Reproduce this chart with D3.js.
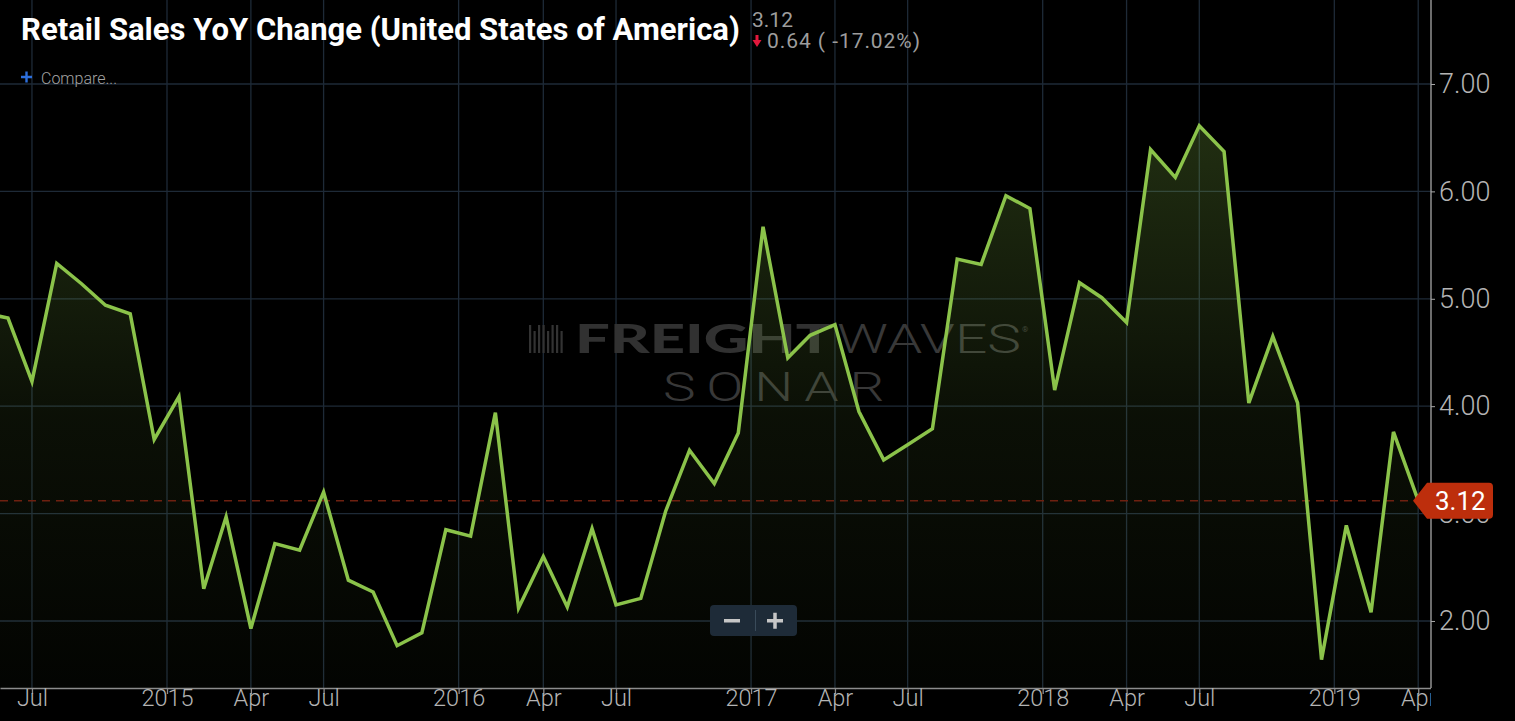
<!DOCTYPE html>
<html>
<head>
<meta charset="utf-8">
<script src="https://cdn.jsdelivr.net/npm/d3@7"></script>
<style>
  html, body { margin: 0; padding: 0; background: #000; overflow: hidden; }
</style>
</head>
<body>
<div id="chart"></div>
<script>
// monthly retail sales YoY change
const months = [
  "2014-05", "2014-06", "2014-07", "2014-08", "2014-09", "2014-10", "2014-11", "2014-12",
  "2015-01", "2015-02", "2015-03", "2015-04", "2015-05", "2015-06", "2015-07", "2015-08", "2015-09", "2015-10", "2015-11", "2015-12",
  "2016-01", "2016-02", "2016-03", "2016-04", "2016-05", "2016-06", "2016-07", "2016-08", "2016-09", "2016-10", "2016-11", "2016-12",
  "2017-01", "2017-02", "2017-03", "2017-04", "2017-05", "2017-06", "2017-07", "2017-08", "2017-09", "2017-10", "2017-11", "2017-12",
  "2018-01", "2018-02", "2018-03", "2018-04", "2018-05", "2018-06", "2018-07", "2018-08", "2018-09", "2018-10", "2018-11", "2018-12",
  "2019-01", "2019-02", "2019-03", "2019-04"
];
const values = [
  4.87, 4.82, 4.23, 5.33, 5.14, 4.94, 4.86, 3.69,
  4.09, 2.30, 2.97, 1.93, 2.72, 2.66, 3.20, 2.38, 2.27, 1.77, 1.89, 2.85,
  2.79, 3.94, 2.12, 2.60, 2.13, 2.86, 2.15, 2.21, 3.02, 3.59, 3.28, 3.75,
  5.67, 4.45, 4.66, 4.76, 3.95, 3.50, 3.64, 3.79, 5.37, 5.32, 5.96, 5.84,
  4.15, 5.15, 5.01, 4.78, 6.39, 6.13, 6.61, 6.37, 4.03, 4.65, 4.03, 1.64,
  2.89, 2.08, 3.76, 3.12
];

// x axis ticks (month ticks sit on the mid-month data points)
const tickDates = [
  "2014-07-16", "2015-01-01", "2015-04-16", "2015-07-16",
  "2016-01-01", "2016-04-16", "2016-07-16",
  "2017-01-01", "2017-04-16", "2017-07-16",
  "2018-01-01", "2018-04-16", "2018-07-16",
  "2019-01-01", "2019-04-16"
];
const tickLabels = [
  "Jul", "2015", "Apr", "Jul",
  "2016", "Apr", "Jul",
  "2017", "Apr", "Jul",
  "2018", "Apr", "Jul",
  "2019", "Apr"
];
const yTicks = [2, 3, 4, 5, 6, 7];

const title = "Retail Sales YoY Change (United States of America)";
const lastValue = values[values.length - 1];
const prevValue = values[values.length - 2];

const parse = d3.utcParse("%Y-%m-%d");
const data = months.map((m, i) => ({ date: parse(m + "-16"), value: values[i] }));
const fmt = v => d3.format(".2f")(v).replace("\u2212", "-");

const width = 1515, height = 721;
const plotW = 1431, plotH = 688;

const svg = d3.select("#chart")
  .append("svg")
  .attr("width", width)
  .attr("height", height)
  .style("background", "#000")
  .style("display", "block");

// scales
const x = d3.scaleUtc()
  .domain([parse("2014-06-06"), parse("2019-05-02")])
  .range([0, plotW]);
const y = d3.scaleLinear()
  .domain([1.376, 7.782])
  .range([plotH, 0]);

const defs = svg.append("defs");
defs.append("clipPath").attr("id", "plot-clip")
  .append("rect").attr("x", 0).attr("y", 0).attr("width", plotW).attr("height", plotH);
defs.append("clipPath").attr("id", "label-clip")
  .append("rect").attr("x", 0).attr("y", 0).attr("width", plotW).attr("height", height);

const grad = defs.append("linearGradient")
  .attr("id", "area-grad")
  .attr("gradientUnits", "userSpaceOnUse")
  .attr("x1", 0).attr("y1", y(7)).attr("x2", 0).attr("y2", plotH);
grad.append("stop").attr("offset", "0%").attr("stop-color", "#8bc34a").attr("stop-opacity", 0.26);
grad.append("stop").attr("offset", "55%").attr("stop-color", "#8bc34a").attr("stop-opacity", 0.08);
grad.append("stop").attr("offset", "100%").attr("stop-color", "#8bc34a").attr("stop-opacity", 0.02);

// grid
const grid = svg.append("g").attr("stroke", "#1e2a37").attr("stroke-width", 1.3);
grid.selectAll(".vg")
  .data(tickDates)
  .enter().append("line")
  .attr("x1", d => x(parse(d))).attr("x2", d => x(parse(d)))
  .attr("y1", 0).attr("y2", plotH);
grid.selectAll(".hg")
  .data(yTicks)
  .enter().append("line")
  .attr("x1", 0).attr("x2", plotW)
  .attr("y1", d => y(d)).attr("y2", d => y(d));

// watermark
const wm = svg.append("g");
const bars = [0, 4.5, 9, 13.5, 18, 22.5, 27, 31.5];
wm.selectAll(".bar")
  .data(bars)
  .enter().append("rect")
  .attr("x", d => 529 + d)
  .attr("y", (d, i) => (i % 3 === 1 ? 331 : 325))
  .attr("width", 2.2)
  .attr("height", (d, i) => (i % 3 === 1 ? 22 : 28))
  .attr("fill", "#333");
wm.append("text")
  .attr("x", 575).attr("y", 353)
  .attr("font-family", "Lato, 'DejaVu Sans', sans-serif")
  .attr("font-weight", 900)
  .attr("font-size", 40)
  .attr("textLength", 258)
  .attr("lengthAdjust", "spacingAndGlyphs")
  .attr("fill", "#313131")
  .text("FREIGHT");
wm.append("text")
  .attr("x", 837).attr("y", 353)
  .attr("font-family", "Roboto, sans-serif")
  .attr("font-weight", 300)
  .attr("font-size", 40)
  .attr("textLength", 184)
  .attr("lengthAdjust", "spacingAndGlyphs")
  .attr("fill", "#383838")
  .text("WAVES");
wm.append("text")
  .attr("x", 1022).attr("y", 332)
  .attr("font-family", "Roboto, sans-serif")
  .attr("font-size", 8)
  .attr("fill", "#3a3a3a")
  .text("®");
wm.append("text")
  .attr("x", 663).attr("y", 401)
  .attr("font-family", "Roboto, sans-serif")
  .attr("font-weight", 300)
  .attr("font-size", 41)
  .attr("letter-spacing", 8)
  .attr("textLength", 232)
  .attr("lengthAdjust", "spacingAndGlyphs")
  .attr("fill", "#383838")
  .text("SONAR");

// area + line
const plot = svg.append("g").attr("clip-path", "url(#plot-clip)");
plot.append("path")
  .datum(data)
  .attr("fill", "url(#area-grad)")
  .attr("d", d3.area()
    .x(d => x(d.date))
    .y0(plotH)
    .y1(d => y(d.value)));

// last value dashed line
plot.append("line")
  .attr("x1", 0).attr("x2", plotW)
  .attr("y1", y(lastValue)).attr("y2", y(lastValue))
  .attr("stroke", "#6e2010")
  .attr("stroke-width", 1.6)
  .attr("stroke-dasharray", "8,6");

plot.append("path")
  .datum(data)
  .attr("fill", "none")
  .attr("stroke", "#8bc34a")
  .attr("stroke-width", 3.5)
  .attr("d", d3.line()
    .x(d => x(d.date))
    .y(d => y(d.value)));

// x axis
const xAxisWrap = svg.append("g").attr("clip-path", "url(#label-clip)");
const xAxis = xAxisWrap.append("g")
  .attr("transform", "translate(0," + plotH + ")")
  .call(d3.axisBottom(x)
    .tickValues(tickDates.map(parse))
    .tickFormat((d, i) => tickLabels[i])
    .tickSize(6)
    .tickSizeOuter(0));
xAxis.select(".domain").attr("stroke", "#8c8c8c").attr("stroke-width", 1.5);
xAxis.selectAll(".tick line").attr("stroke", "#8c8c8c").attr("stroke-width", 1.3);
xAxis.selectAll(".tick text")
  .attr("y", 18)
  .attr("dy", null)
  .attr("fill", "#b4b4b4")
  .attr("font-family", "Roboto, sans-serif")
  .attr("font-weight", 300)
  .attr("font-size", 23.5);

// y axis on the right
const yAxis = svg.append("g")
  .attr("transform", "translate(" + plotW + ",0)")
  .call(d3.axisRight(y)
    .tickValues(yTicks)
    .tickFormat(d3.format(".2f"))
    .tickSize(4)
    .tickPadding(4)
    .tickSizeOuter(0));
yAxis.select(".domain").attr("stroke", "#a8a8a8").attr("stroke-width", 1.3)
  .attr("d", "M0,0V" + plotH);
yAxis.selectAll(".tick line").attr("stroke", "#a8a8a8");
yAxis.selectAll(".tick text")
  .attr("fill", "#b4b4b4")
  .attr("font-family", "Roboto, sans-serif")
  .attr("font-weight", 300)
  .attr("font-size", 27);

// last value tag
const ty = y(lastValue);
svg.append("path")
  .attr("d", "M" + (plotW - 18) + "," + ty +
    "L" + (plotW - 4) + "," + (ty - 18) +
    "H" + (plotW + 58) + "Q" + (plotW + 62) + "," + (ty - 18) + " " + (plotW + 62) + "," + (ty - 14) +
    "V" + (ty + 14) + "Q" + (plotW + 62) + "," + (ty + 18) + " " + (plotW + 58) + "," + (ty + 18) +
    "H" + (plotW - 4) + "Z")
  .attr("fill", "#bd2e0c");
svg.append("text")
  .attr("x", plotW + 4).attr("y", ty + 9.5)
  .attr("fill", "#fff")
  .attr("font-family", "Roboto, sans-serif")
  .attr("font-size", 26)
  .text(fmt(lastValue));

// header: condensed bold title squeezed to the reference width
const titleText = svg.append("text")
  .attr("fill", "#fff")
  .attr("font-family", "Roboto, sans-serif")
  .attr("font-weight", 700)
  .attr("font-size", 32)
  .text(title);
const titleScale = 719 / titleText.node().getComputedTextLength();
titleText.attr("transform", "translate(21,40) scale(" + titleScale + ",1)");

const change = lastValue - prevValue;
svg.append("text")
  .attr("x", 752).attr("y", 27)
  .attr("fill", "#9d9d9d")
  .attr("font-family", "Roboto, sans-serif")
  .attr("font-size", 21)
  .text(fmt(lastValue));
svg.append("path")
  .attr("d", "M755.5,35h3v5h3l-4.5,7l-4.5,-7h3z")
  .attr("fill", "#e2183c");
svg.append("text")
  .attr("x", 767).attr("y", 48)
  .attr("fill", "#9d9d9d")
  .attr("font-family", "Roboto, sans-serif")
  .attr("font-size", 21)
  .attr("textLength", 153)
  .text(fmt(Math.abs(change)) + " ( " + fmt(change / prevValue * 100) + "%)");

svg.append("path")
  .attr("d", "M26.5,71.5V82.5M21,77H32")
  .attr("stroke", "#2d6fdc")
  .attr("stroke-width", 2.4);
svg.append("text")
  .attr("x", 41).attr("y", 83.5)
  .attr("fill", "#a3a3a3")
  .attr("font-family", "Roboto, sans-serif")
  .attr("font-weight", 300)
  .attr("font-size", 16)
  .text("Compare...");

// zoom buttons
const zb = svg.append("g");
zb.append("rect")
  .attr("x", 710).attr("y", 605).attr("width", 87).attr("height", 31).attr("rx", 4)
  .attr("fill", "#1e2b38");
zb.append("line")
  .attr("x1", 755.5).attr("x2", 755.5).attr("y1", 610).attr("y2", 631)
  .attr("stroke", "#3a4b5a");
zb.append("rect").attr("x", 724).attr("y", 619).attr("width", 16).attr("height", 3.5).attr("fill", "#c6c6c6");
zb.append("rect").attr("x", 767).attr("y", 619).attr("width", 16).attr("height", 3.5).attr("fill", "#c6c6c6");
zb.append("rect").attr("x", 773.25).attr("y", 612.75).attr("width", 3.5).attr("height", 16).attr("fill", "#c6c6c6");
</script>
</body>
</html>
